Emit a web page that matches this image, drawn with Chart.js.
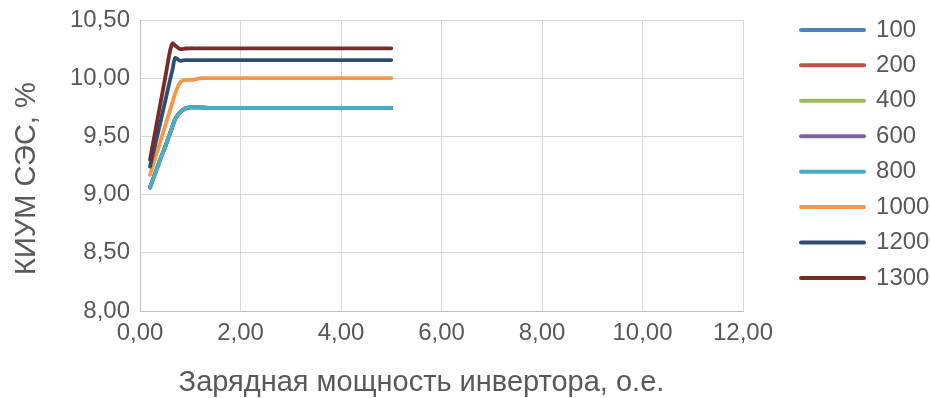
<!DOCTYPE html>
<html>
<head>
<meta charset="utf-8">
<script src="https://cdn.jsdelivr.net/npm/chart.js@4/dist/chart.umd.min.js"></script>
<style>
  html, body { margin: 0; padding: 0; background: #ffffff; }
  #wrap { width: 930px; height: 398px; position: relative; }
</style>
</head>
<body>
<div id="wrap"><canvas id="chart" width="930" height="398"></canvas></div>
<script>
// Charging power of the inverter, p.u.
const chargePower = [0.2, 0.4, 0.5, 0.6, 0.65, 0.7, 0.8, 0.9, 1.0, 1.1, 1.2, 1.4, 2.0, 3.0, 4.0, 5.0];

// Capacity factor of the PV plant, % (one series per storage size)
const seriesLabels = ['100', '200', '400', '600', '800', '1000', '1200', '1300'];
const kium100  = [9.06, 9.30, 9.41, 9.53, 9.59, 9.65, 9.71, 9.74, 9.75, 9.75, 9.75, 9.745, 9.745, 9.745, 9.745, 9.745];
const kium200  = [9.06, 9.30, 9.41, 9.53, 9.59, 9.65, 9.71, 9.74, 9.75, 9.75, 9.75, 9.745, 9.745, 9.745, 9.745, 9.745];
const kium400  = [9.06, 9.30, 9.41, 9.53, 9.59, 9.65, 9.71, 9.74, 9.75, 9.75, 9.75, 9.745, 9.745, 9.745, 9.745, 9.745];
const kium600  = [9.06, 9.30, 9.41, 9.53, 9.59, 9.65, 9.71, 9.74, 9.75, 9.75, 9.75, 9.745, 9.745, 9.745, 9.745, 9.745];
const kium800  = [9.06, 9.30, 9.41, 9.53, 9.59, 9.65, 9.71, 9.74, 9.75, 9.75, 9.75, 9.745, 9.745, 9.745, 9.745, 9.745];
const kium1000 = [9.17, 9.45, 9.59, 9.73, 9.80, 9.87, 9.965, 9.985, 9.985, 9.99, 10.0, 10.0, 10.0, 10.0, 10.0, 10.0];
const kium1200 = [9.24, 9.61, 9.80, 9.99, 10.08, 10.175, 10.15, 10.155, 10.156, 10.156, 10.156, 10.156, 10.156, 10.156, 10.156, 10.156];
const kium1300 = [9.30, 9.77, 10.00, 10.24, 10.30, 10.28, 10.25, 10.255, 10.257, 10.257, 10.257, 10.257, 10.257, 10.257, 10.257, 10.257];

const seriesValues = [kium100, kium200, kium400, kium600, kium800, kium1000, kium1200, kium1300];
const seriesColors = ['#4F81BD', '#C0504D', '#9BBB59', '#8064A2', '#4BACC6', '#F79646', '#2C4D75', '#772C2A'];

// Axis ticks
const xTicks = [0, 2, 4, 6, 8, 10, 12];
const yTicks = [8.0, 8.5, 9.0, 9.5, 10.0, 10.5];

const xTitle = 'Зарядная мощность инвертора, о.е.';
const yTitle = 'КИУМ СЭС, %';

const FONT = "'Liberation Sans', Arial, sans-serif";
const TEXT = '#595959';
const GRID = '#d9d9d9';

const fmt = v => Number(v).toFixed(2).replace('.', ',');

const datasets = seriesLabels.map((label, i) => ({
  label: label,
  data: chargePower.map((x, k) => ({ x: x, y: seriesValues[i][k] })),
  borderColor: seriesColors[i],
  backgroundColor: seriesColors[i],
  borderWidth: 3.8,
  pointRadius: 0,
  showLine: true,
  tension: 0.25,
  borderCapStyle: 'round',
  borderJoinStyle: 'round',
  order: -i          // later series are painted over earlier ones
}));

// Axis titles, placed like the office-style chart layout
const axisTitles = {
  id: 'axisTitles',
  afterDraw(chart) {
    const { ctx, chartArea: a } = chart;
    ctx.save();
    ctx.fillStyle = TEXT;
    ctx.textAlign = 'center';
    ctx.textBaseline = 'middle';
    ctx.font = `29px ${FONT}`;
    ctx.fillText(xTitle, a.left + (a.right - a.left) * 0.4668, chart.height - 15);
    ctx.translate(27, a.top + (a.bottom - a.top) * 0.545);
    ctx.rotate(-Math.PI / 2);
    ctx.fillText(yTitle, 0, 0);
    ctx.restore();
  }
};

new Chart(document.getElementById('chart'), {
  type: 'scatter',
  data: { datasets: datasets },
  plugins: [axisTitles],
  options: {
    responsive: false,
    animation: false,
    layout: { padding: { top: 6.5, right: 0, bottom: 0, left: 0 } },
    plugins: {
      tooltip: { enabled: false },
      legend: {
        position: 'right',
        align: 'start',
        maxWidth: 140.4,
        labels: {
          usePointStyle: true,
          pointStyle: 'line',
          pointStyleWidth: 63,
          boxHeight: 24,
          padding: 11.43,
          color: TEXT,
          font: { family: FONT, size: 24 },
          sort: (a, b) => a.datasetIndex - b.datasetIndex,
          generateLabels: chart => chart.data.datasets.map((ds, i) => ({
            text: ds.label,
            strokeStyle: ds.borderColor,
            fillStyle: ds.borderColor,
            lineWidth: 4,
            lineCap: 'round',
            pointStyle: 'line',
            hidden: false,
            datasetIndex: i,
            fontColor: TEXT
          }))
        }
      }
    },
    scales: {
      x: {
        type: 'linear',
        min: 0,
        max: 12,
        afterBuildTicks: s => { s.ticks = xTicks.map(v => ({ value: v })); },
        afterFit: s => { s.height = 87; },
        grid: { color: GRID, lineWidth: 1, drawTicks: false },
        border: { color: '#bfbfbf', width: 1 },
        ticks: {
          color: TEXT,
          padding: 8,
          font: { family: FONT, size: 24 },
          maxRotation: 0,
          callback: v => fmt(v)
        },
        title: { display: false }
      },
      y: {
        type: 'linear',
        min: 8,
        max: 10.5,
        afterBuildTicks: s => { s.ticks = yTicks.map(v => ({ value: v })); },
        afterFit: s => { s.width = 140; s.paddingTop = 20; },
        grid: { color: GRID, lineWidth: 1, drawTicks: false },
        border: { color: '#bfbfbf', width: 1 },
        ticks: {
          color: TEXT,
          padding: 10,
          font: { family: FONT, size: 24 },
          callback: v => fmt(v)
        },
        title: { display: false }
      },
      // empty strip between the plot and the legend
      gap: {
        type: 'linear',
        position: 'right',
        display: true,
        grid: { display: false, drawTicks: false },
        border: { display: false },
        ticks: { display: false },
        afterFit: s => { s.width = 46.6; }
      }
    }
  }
});
</script>
</body>
</html>
